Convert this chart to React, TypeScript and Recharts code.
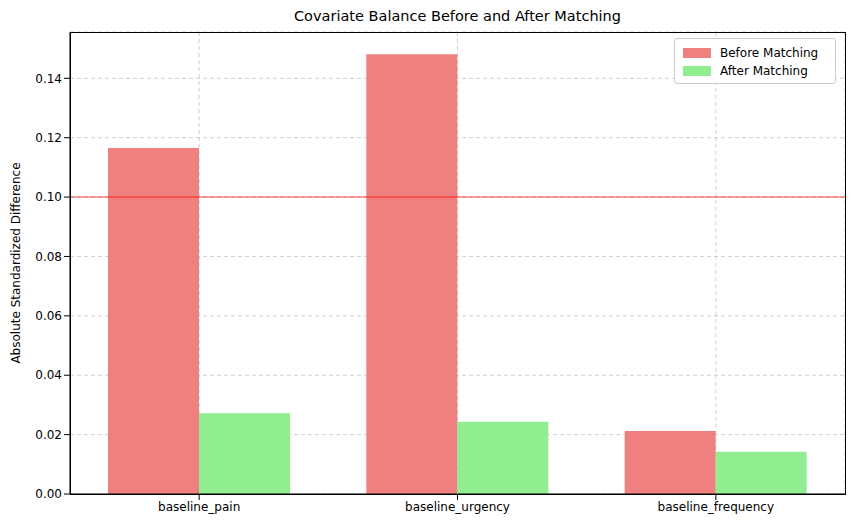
import { Bar, BarChart, CartesianGrid, ReferenceLine, XAxis, YAxis } from 'recharts'

const categories = ['baseline_pain', 'baseline_urgency', 'baseline_frequency']
const beforeValues = [0.1165, 0.1481, 0.0212]
const afterValues = [0.0272, 0.0243, 0.0142]
const yTicks = [0, 0.02, 0.04, 0.06, 0.08, 0.1, 0.12, 0.14]

const data = categories.map((name, i) => ({ name, before: beforeValues[i], after: afterValues[i] }))

const font = '"DejaVu Sans", sans-serif'
const tick = { fill: '#000', fontSize: 12, fontFamily: font }

export default function App() {
  return (
    <div style={{ position: 'absolute', left: 0, top: 0, width: 855, height: 528, background: '#fff', fontFamily: font }}>
      <div style={{ position: 'absolute', left: 70, width: 775, top: 8, textAlign: 'center', fontSize: 14.5 }}>
        Covariate Balance Before and After Matching
      </div>
      <div
        style={{
          position: 'absolute', left: 16, top: 263, fontSize: 12,
          transform: 'translate(-50%, -50%) rotate(-90deg)', whiteSpace: 'nowrap',
        }}
      >
        Absolute Standardized Difference
      </div>
      <BarChart
        width={855}
        height={528}
        data={data}
        margin={{ top: 32, right: 10, bottom: 0, left: 0 }}
        barCategoryGap={38}
        barGap={0}
      >
        <CartesianGrid stroke="#b0b0b0" strokeOpacity={0.6} strokeDasharray="4 3" />
        <XAxis dataKey="name" height={34} tick={tick} tickLine={{ stroke: '#000' }} axisLine={{ stroke: '#000' }} />
        <YAxis
          width={70}
          domain={[0, 0.1556]}
          ticks={yTicks}
          tickFormatter={(v: number) => v.toFixed(2)}
          tick={tick}
          tickLine={{ stroke: '#000' }}
          axisLine={{ stroke: '#000' }}
          allowDataOverflow
        />
        <ReferenceLine y={0.1} stroke="red" strokeOpacity={0.5} strokeWidth={1.5} />
        <Bar dataKey="before" fill="#f08080" isAnimationActive={false} />
        <Bar dataKey="after" fill="#90ee90" isAnimationActive={false} />
      </BarChart>
      <div style={{ position: 'absolute', left: 70, top: 32, width: 774, height: 461, border: '1px solid #000', pointerEvents: 'none' }} />
      <div
        style={{
          position: 'absolute', left: 674, top: 38, width: 162, height: 46, background: '#fff',
          border: '1px solid #ccc', borderRadius: 3, fontSize: 12, boxSizing: 'border-box', padding: '5px 8px',
        }}
      >
        {[['Before Matching', '#f08080'], ['After Matching', '#90ee90']].map(([label, color]) => (
          <div key={label} style={{ display: 'flex', alignItems: 'center', height: 18 }}>
            <span style={{ display: 'inline-block', width: 28, height: 10, background: color, marginRight: 9 }} />
            {label}
          </div>
        ))}
      </div>
    </div>
  )
}
